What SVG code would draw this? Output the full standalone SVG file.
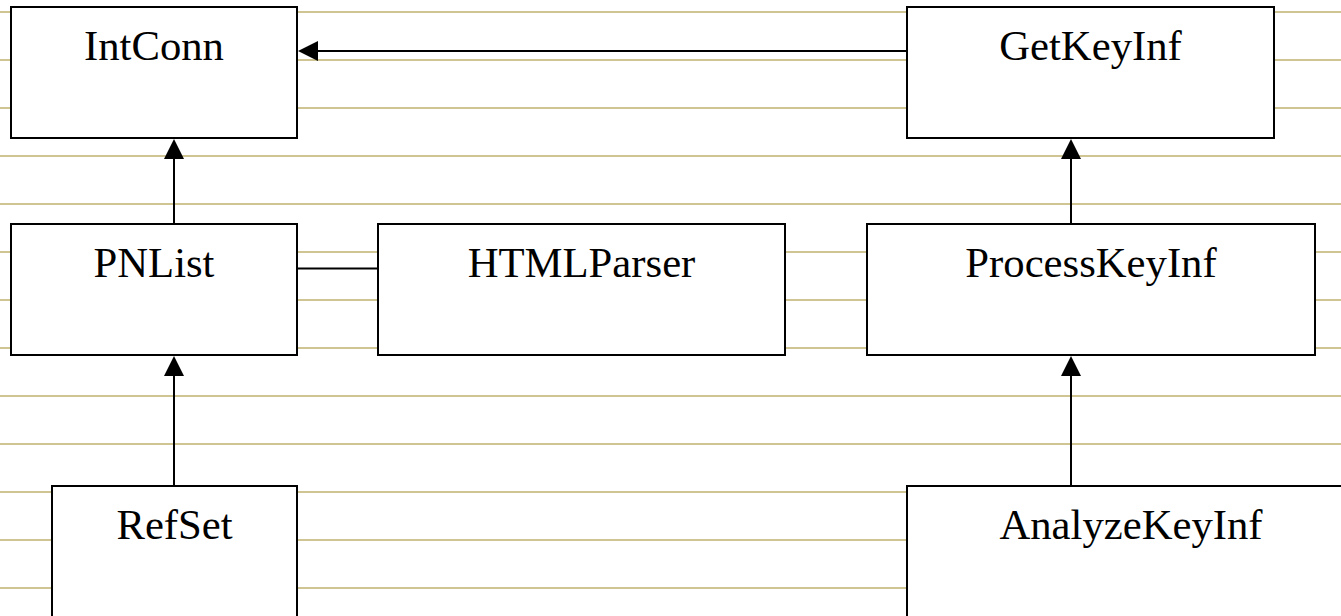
<svg xmlns="http://www.w3.org/2000/svg" width="1341" height="616" viewBox="0 0 1341 616">
  <style>
    .rule { stroke: #CFC493; stroke-width: 2; }
    .box { fill: #ffffff; stroke: #000000; stroke-width: 2; }
    .label { font-family: "Liberation Serif", "Times New Roman", serif; font-size: 42.7px; fill: #000000; text-anchor: middle; }
    .link { stroke: #000000; stroke-width: 2; fill: none; }
    .arrow { marker-end: url(#head); }
  </style>
  <defs>
    <marker id="head" viewBox="0 0 20 20" markerUnits="userSpaceOnUse" markerWidth="20" markerHeight="20" refX="18" refY="10" orient="auto">
      <path d="M0,0 L20,10 L0,20 z" fill="#000000"/>
    </marker>
  </defs>

  <!-- ruled background -->
  <rect x="0" y="0" width="1341" height="616" fill="#ffffff"/>
  <g id="rules">
    <line class="rule" x1="0" y1="12" x2="1341" y2="12"/>
    <line class="rule" x1="0" y1="60" x2="1341" y2="60"/>
    <line class="rule" x1="0" y1="108" x2="1341" y2="108"/>
    <line class="rule" x1="0" y1="156" x2="1341" y2="156"/>
    <line class="rule" x1="0" y1="204" x2="1341" y2="204"/>
    <line class="rule" x1="0" y1="252" x2="1341" y2="252"/>
    <line class="rule" x1="0" y1="300" x2="1341" y2="300"/>
    <line class="rule" x1="0" y1="348" x2="1341" y2="348"/>
    <line class="rule" x1="0" y1="396" x2="1341" y2="396"/>
    <line class="rule" x1="0" y1="444" x2="1341" y2="444"/>
    <line class="rule" x1="0" y1="492" x2="1341" y2="492"/>
    <line class="rule" x1="0" y1="540" x2="1341" y2="540"/>
    <line class="rule" x1="0" y1="588" x2="1341" y2="588"/>
  </g>

  <!-- connectors -->
  <g id="connectors">
    <line class="link arrow" x1="907" y1="51" x2="300" y2="51"/>
    <line class="link arrow" x1="174" y1="224" x2="174" y2="141"/>
    <line class="link arrow" x1="174" y1="486" x2="174" y2="358"/>
    <line class="link" x1="297" y1="268.5" x2="378" y2="268.5"/>
    <line class="link arrow" x1="1071" y1="224" x2="1071" y2="141"/>
    <line class="link arrow" x1="1071" y1="486" x2="1071" y2="358"/>
  </g>

  <!-- nodes -->
  <g id="IntConn">
    <rect class="box" x="11" y="7" width="286" height="131"/>
    <text class="label" x="154" y="60">IntConn</text>
  </g>
  <g id="GetKeyInf">
    <rect class="box" x="907" y="7" width="367" height="131"/>
    <text class="label" x="1090.5" y="60">GetKeyInf</text>
  </g>
  <g id="PNList">
    <rect class="box" x="11" y="224" width="286" height="131"/>
    <text class="label" x="154" y="277">PNList</text>
  </g>
  <g id="HTMLParser">
    <rect class="box" x="378" y="224" width="407" height="131"/>
    <text class="label" x="581.5" y="277">HTMLParser</text>
  </g>
  <g id="ProcessKeyInf">
    <rect class="box" x="867" y="224" width="448" height="131"/>
    <text class="label" x="1091" y="277">ProcessKeyInf</text>
  </g>
  <g id="RefSet">
    <rect class="box" x="52" y="486" width="245" height="140"/>
    <text class="label" x="174.5" y="539">RefSet</text>
  </g>
  <g id="AnalyzeKeyInf">
    <rect class="box" x="907" y="486" width="448" height="140"/>
    <text class="label" x="1131" y="539">AnalyzeKeyInf</text>
  </g>
</svg>
